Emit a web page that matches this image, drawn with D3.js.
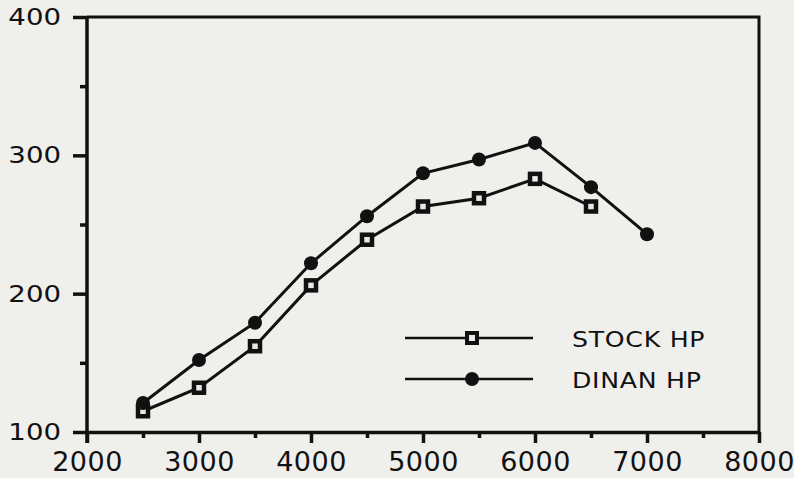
<!DOCTYPE html>
<html>
<head>
<meta charset="utf-8">
<script src="https://cdn.jsdelivr.net/npm/d3@7"></script>
<style>
  body { margin: 0; background: #efefec; }
  svg { display: block; }
</style>
</head>
<body>
<div id="chart"></div>
<script>
// data
var rpm = [2500, 3000, 3500, 4000, 4500, 5000, 5500, 6000, 6500, 7000];
var stockHp = [115, 132, 162, 206, 239, 263, 269, 283, 263, null];
var dinanHp = [121, 152, 179, 222, 256, 287, 297, 309, 277, 243];
var xTicks = [2000, 3000, 4000, 5000, 6000, 7000, 8000];
var xMinor = [2500, 3500, 4500, 5500, 6500, 7500];
var yTicks = [100, 200, 300, 400];
var yMinor = [150, 250, 350];
var seriesNames = ["STOCK HP", "DINAN HP"];

var W = 794, H = 478;
var svg = d3.select("#chart").append("svg")
    .attr("width", W).attr("height", H);

var x = d3.scaleLinear().domain([2000, 8000]).range([87, 759]);
var y = d3.scaleLinear().domain([100, 400]).range([432, 17]);

// frame top + right
svg.append("path")
  .attr("d", "M" + x(2000) + "," + y(400) + "H" + x(8000) + "V" + y(100))
  .attr("fill", "none").attr("stroke", "#111").attr("stroke-width", 3);

// minor ticks
var yMin = svg.append("g").attr("transform", "translate(" + x(2000) + ",0)")
  .call(d3.axisLeft(y).tickValues(yMinor).tickSize(7).tickFormat(""));
var xMin = svg.append("g").attr("transform", "translate(0," + y(100) + ")")
  .call(d3.axisBottom(x).tickValues(xMinor).tickSize(6).tickFormat(""));

// major axes
var yAx = svg.append("g").attr("transform", "translate(" + x(2000) + ",0)")
  .call(d3.axisLeft(y).tickValues(yTicks).tickSize(14).tickSizeOuter(0)
    .tickPadding(12).tickFormat(d3.format("d")));
var xAx = svg.append("g").attr("transform", "translate(0," + y(100) + ")")
  .call(d3.axisBottom(x).tickValues(xTicks).tickSize(11).tickSizeOuter(0)
    .tickPadding(9).tickFormat(d3.format("d")));

[yMin, xMin, yAx, xAx].forEach(function(g) {
  g.selectAll("path").attr("stroke", "#111").attr("stroke-width", 3.5);
  g.selectAll("line").attr("stroke", "#111").attr("stroke-width", 3.5);
});
xMin.select("path").remove();
yMin.select("path").remove();
// extend y axis line down to the 2000 tick
yAx.select("path").attr("d", "M0," + (y(400)) + "V" + (y(100) + 11));

// y labels: wide geometric look via horizontal stretch
yAx.selectAll(".tick text")
  .attr("font-family", "DejaVu Sans").attr("font-size", 23)
  .attr("fill", "#111")
  .attr("transform", function() {
    var tx = +d3.select(this).attr("x");
    return "translate(" + tx + ",0) scale(1.2,1) translate(" + (-tx) + ",0)";
  });
xAx.selectAll("text")
  .attr("font-family", "DejaVu Sans").attr("font-size", 27)
  .attr("letter-spacing", 0.5).attr("fill", "#111");

// lines
var line = d3.line()
  .x(function(d) { return x(d[0]); })
  .y(function(d) { return y(d[1]); });

var stockPts = d3.zip(rpm, stockHp).filter(function(d) { return d[1] != null; });
var dinanPts = d3.zip(rpm, dinanHp);

svg.append("path").datum(stockPts)
  .attr("fill", "none").attr("stroke", "#111").attr("stroke-width", 3)
  .attr("d", line);
svg.append("path").datum(dinanPts)
  .attr("fill", "none").attr("stroke", "#111").attr("stroke-width", 3)
  .attr("d", line);

// markers
svg.selectAll(".sq").data(stockPts).enter().append("rect")
  .attr("x", function(d) { return x(d[0]) - 5; })
  .attr("y", function(d) { return y(d[1]) - 5; })
  .attr("width", 10).attr("height", 10)
  .attr("fill", "#e8e8e4").attr("stroke", "#111").attr("stroke-width", 4.5);

svg.selectAll(".dot").data(dinanPts).enter().append("circle")
  .attr("cx", function(d) { return x(d[0]); })
  .attr("cy", function(d) { return y(d[1]); })
  .attr("r", 7).attr("fill", "#111");

// legend
var legY = [338, 379];
var leg = svg.append("g");
seriesNames.forEach(function(name, i) {
  leg.append("line")
    .attr("x1", 405).attr("x2", 533).attr("y1", legY[i]).attr("y2", legY[i])
    .attr("stroke", "#111").attr("stroke-width", 2.5);
  if (i === 0) {
    leg.append("rect").attr("x", 467).attr("y", legY[i] - 5)
      .attr("width", 10).attr("height", 10)
      .attr("fill", "#e8e8e4").attr("stroke", "#111").attr("stroke-width", 4);
  } else {
    leg.append("circle").attr("cx", 472).attr("cy", legY[i]).attr("r", 7).attr("fill", "#111");
  }
  leg.append("text")
    .attr("transform", "translate(572," + (legY[i] + 9) + ") scale(1.2,1)")
    .attr("font-family", "DejaVu Sans").attr("font-size", 21)
    .attr("letter-spacing", 0.6)
    .attr("fill", "#111")
    .text(name);
});
</script>
</body>
</html>
